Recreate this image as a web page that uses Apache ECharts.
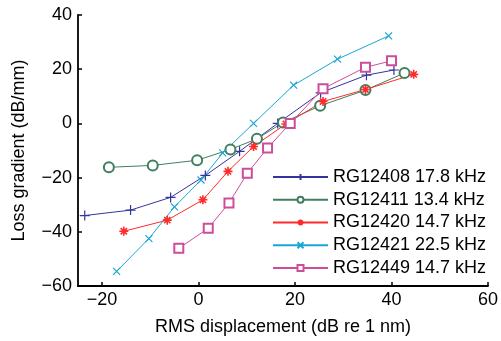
<!DOCTYPE html>
<html><head><meta charset="utf-8">
<script src="https://cdn.jsdelivr.net/npm/echarts@6/dist/echarts.min.js"></script>
<style>html,body{margin:0;padding:0;background:#fff}#c{width:501px;height:341px}</style>
</head><body><div id="c"></div>
<script>
const seriesNames = ['RG12408 17.8 kHz','RG12411 13.4 kHz','RG12420 14.7 kHz','RG12421 22.5 kHz','RG12449 14.7 kHz'];
const rg12408 = [[-23.6,-34.0],[-14.1,-32.0],[-5.8,-27.3],[1.4,-19.2],[8.5,-10.3],[16.4,0.0],[25.3,11.3],[34.8,17.8],[40.5,19.7]];
const rg12411 = [[-18.6,-16.2],[-9.5,-15.5],[-0.3,-13.6],[6.6,-9.6],[12.1,-5.7],[17.5,0.3],[25.2,6.5],[34.6,12.3],[42.7,18.6]];
const rg12420 = [[-15.5,-39.8],[-6.5,-35.7],[0.9,-28.2],[6.1,-17.7],[11.4,-8.5],[18.1,-0.2],[25.8,8.1],[34.6,12.5],[44.6,18.1]];
const rg12421 = [[-17.0,-54.6],[-10.3,-42.5],[-5.0,-30.8],[0.5,-20.9],[5.0,-10.9],[11.4,0.0],[19.7,14.1],[28.8,23.7],[39.4,32.3]];
const rg12449 = [[-4.1,-46.1],[2.0,-38.7],[6.3,-29.4],[10.1,-18.4],[14.3,-9.1],[19.0,0.0],[25.8,12.8],[34.6,20.7],[40.0,23.1]];
const xTicks = [-20,0,20,40,60];
const yTicks = [-60,-40,-20,0,20,40];

const colors = ['#34349e','#3f7f60','#ff2b2b','#1aa6d4','#cc4e9b'];
const plusP = 'path://M5,0L5,10M0,5L10,5';
const crossP = 'path://M0,0L10,10M0,10L10,0';
const starP = 'path://M5,0L5,10M0,5L10,5M1.5,1.5L8.5,8.5M1.5,8.5L8.5,1.5';
const symbols = [plusP,'emptyCircle',starP,crossP,'emptyRect'];
const sizes = [10,10,9,7,9];
const datas = [rg12408,rg12411,rg12420,rg12421,rg12449];
const fmt = v => String(v).replace('-', '\u2212');
const chart = echarts.init(document.getElementById('c'));
chart.setOption({
  animation:false,
  textStyle:{fontFamily:'Liberation Sans'},
  grid:{left:78,right:12,top:15,bottom:52,containLabel:false},
  xAxis:{type:'value',min:-25,max:60,interval:20,
    axisLabel:{customValues:xTicks,formatter:fmt,color:'#000',fontSize:18,margin:5},
    axisTick:{customValues:xTicks,inside:true,length:4,lineStyle:{color:'#000',width:1.5}},
    axisLine:{onZero:false,lineStyle:{color:'#000',width:1.8}},
    splitLine:{show:false},
    name:'RMS displacement (dB re 1 nm)',nameLocation:'middle',nameGap:32,
    nameTextStyle:{color:'#000',fontSize:18}},
  yAxis:{type:'value',min:-60,max:40,interval:20,
    axisLabel:{formatter:fmt,color:'#000',fontSize:18,margin:6},
    axisTick:{inside:true,length:4,lineStyle:{color:'#000',width:1.5}},
    axisLine:{show:true,onZero:false,lineStyle:{color:'#000',width:1.8}},
    splitLine:{show:false},
    name:'Loss gradient (dB/mm)',nameLocation:'middle',nameGap:50,
    nameTextStyle:{color:'#000',fontSize:18}},
  legend:{orient:'vertical',left:267,top:163,padding:5,itemWidth:55,itemHeight:7.5,itemGap:4.75,
    textStyle:{fontSize:18,color:'#000',lineHeight:18},
    data:seriesNames},
  series:datas.map((d,i)=>({
    type:'line',name:seriesNames[i],data:d,color:colors[i],
    symbol:symbols[i],symbolSize:sizes[i],showAllSymbol:true,
    lineStyle:{color:colors[i],width:1},
    itemStyle:{color:colors[i],borderColor:colors[i],borderWidth:i===2?1.6:1.2}
  }))
});
</script></body></html>
